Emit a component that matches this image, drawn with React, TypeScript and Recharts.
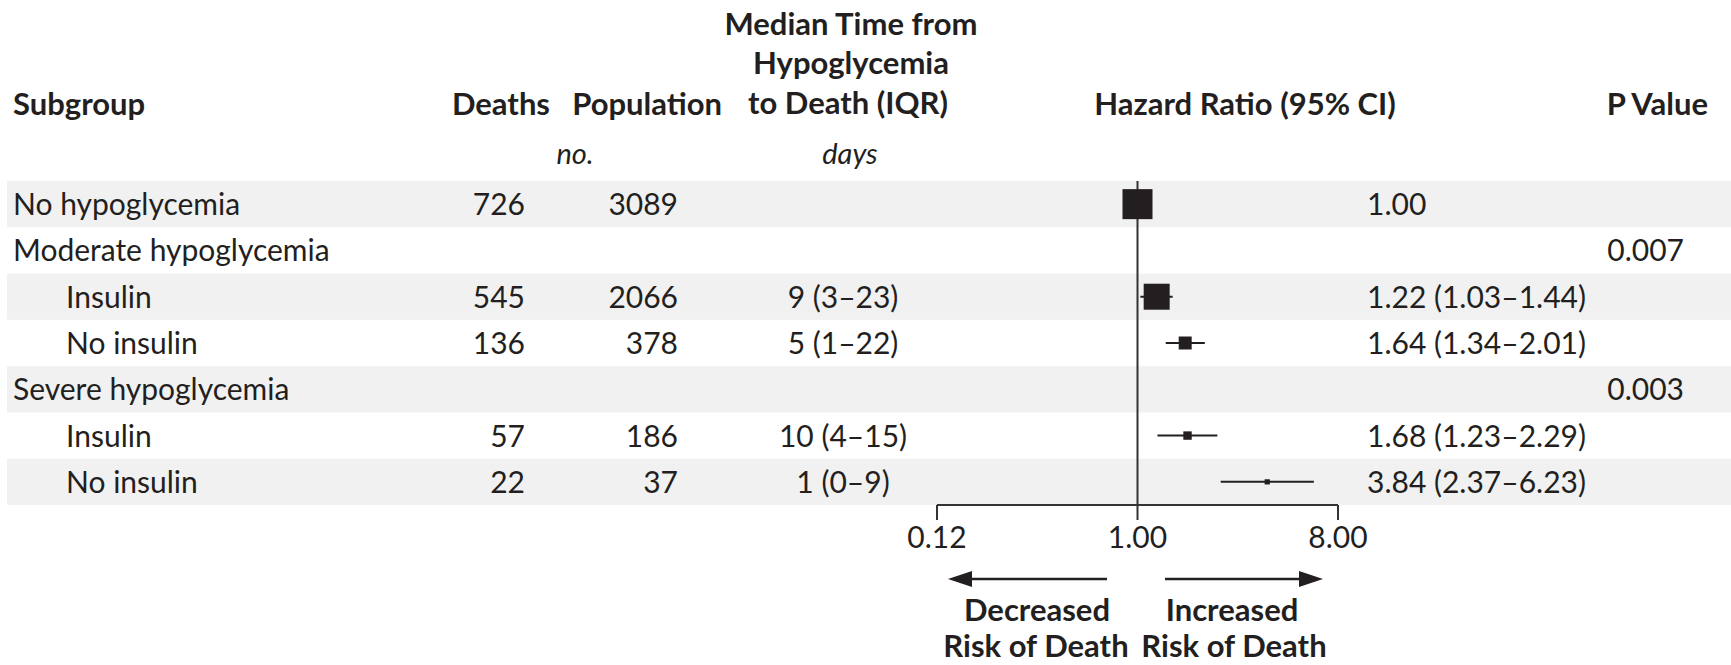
import React from 'react';
import { ComposedChart, Scatter, XAxis, YAxis, ErrorBar, ReferenceLine } from 'recharts';

// ---------- data ----------
const subgroups = [
  'No hypoglycemia',
  'Moderate hypoglycemia',
  'Insulin',
  'No insulin',
  'Severe hypoglycemia',
  'Insulin',
  'No insulin',
];
const levels = [0, 0, 1, 1, 0, 1, 1];
const deaths: (number | null)[] = [726, null, 545, 136, null, 57, 22];
const population: (number | null)[] = [3089, null, 2066, 378, null, 186, 37];
const medianDays = ['', '', '9 (3–23)', '5 (1–22)', '', '10 (4–15)', '1 (0–9)'];
const hazardRatio: (number | null)[] = [1.0, null, 1.22, 1.64, null, 1.68, 3.84];
const ciLower: (number | null)[] = [null, null, 1.03, 1.34, null, 1.23, 2.37];
const ciUpper: (number | null)[] = [null, null, 1.44, 2.01, null, 2.29, 6.23];
const pValues = ['', '0.007', '', '', '0.003', '', ''];
const xTicks = [0.125, 1, 8];
const xTickLabels = ['0.12', '1.00', '8.00'];

// ---------- layout ----------
const W = 1731;
const H = 665;
const PLOT_TOP = 181;
const PLOT_BOTTOM = 505;
const PLOT_LEFT = 937;
const PLOT_RIGHT = 1338;
const X_AXIS_H = 60;
const Y_AXIS_W = 1;
const ROW_H = (PLOT_BOTTOM - PLOT_TOP) / subgroups.length;
const FONT = 'Lato, "Open Sans", "Liberation Sans", sans-serif';
const INK = '#231f20';
const LINE = '#333333';
const BAND = '#f1f1f1';
const FS = 30;
const FSB = 31;
const MAX_SIDE = 30;
const maxDeaths = Math.max(...(deaths.filter((d) => d != null) as number[]));

const scatterData = hazardRatio
  .map((hr, i) => ({ i, hr }))
  .filter((d) => d.hr != null)
  .map(({ i, hr }) => ({
    row: i,
    hr: hr as number,
    err:
      ciLower[i] != null && ciUpper[i] != null
        ? [(hr as number) - (ciLower[i] as number), (ciUpper[i] as number) - (hr as number)]
        : [0, 0],
    deaths: deaths[i] as number,
  }));

const fmtHR = (i: number) => {
  const hr = hazardRatio[i];
  if (hr == null) return '';
  const lo = ciLower[i];
  const hi = ciUpper[i];
  if (lo == null || hi == null) return hr.toFixed(2);
  return `${hr.toFixed(2)} (${lo.toFixed(2)}–${hi.toFixed(2)})`;
};

const RowTick = (props: any) => {
  const { y, payload } = props;
  const i = payload.value as number;
  const ty = y + 11;
  const common = { fontFamily: FONT, fontSize: FS, fill: INK };
  return (
    <g>
      <text x={levels[i] ? 66 : 13} y={ty} textAnchor="start" {...common}>
        {subgroups[i]}
      </text>
      {deaths[i] != null && (
        <text x={525} y={ty} textAnchor="end" {...common}>
          {deaths[i]}
        </text>
      )}
      {population[i] != null && (
        <text x={678} y={ty} textAnchor="end" {...common}>
          {population[i]}
        </text>
      )}
      {medianDays[i] && (
        <text x={843} y={ty} textAnchor="middle" {...common}>
          {medianDays[i]}
        </text>
      )}
      {hazardRatio[i] != null && (
        <text x={1367} y={ty} textAnchor="start" {...common}>
          {fmtHR(i)}
        </text>
      )}
      {pValues[i] && (
        <text x={1684} y={ty} textAnchor="end" {...common}>
          {pValues[i]}
        </text>
      )}
    </g>
  );
};

const SquareShape = (props: any) => {
  const { cx, cy, payload } = props;
  const s = MAX_SIDE * Math.sqrt(payload.deaths / maxDeaths);
  return <rect x={cx - s / 2} y={cy - s / 2} width={s} height={s} fill={INK} />;
};

const XTick = (props: any) => {
  const { x, y, payload } = props;
  const idx = xTicks.indexOf(payload.value);
  return (
    <text x={x} y={y + 26} textAnchor="middle" fontFamily={FONT} fontSize={FS} fill={INK}>
      {xTickLabels[idx]}
    </text>
  );
};

const Bands = () => (
  <svg width={W} height={H} style={{ position: 'absolute', left: 0, top: 0 }}>
    {subgroups.map((_, i) =>
      i % 2 === 0 ? (
        <rect key={i} x={7} y={PLOT_TOP + i * ROW_H} width={W - 7} height={ROW_H} fill={BAND} />
      ) : null
    )}
  </svg>
);

const Header = () => {
  const b = { fontFamily: FONT, fontSize: FSB, fontWeight: 700, fill: INK };
  const it = { fontFamily: FONT, fontSize: FS - 1, fontStyle: 'italic', fill: INK };
  return (
    <svg
      width={W}
      height={H}
      style={{ position: 'absolute', left: 0, top: 0, pointerEvents: 'none' }}
    >
      <text x={13} y={115} {...b}>Subgroup</text>
      <text x={550} y={115} textAnchor="end" {...b}>Deaths</text>
      <text x={722} y={115} textAnchor="end" {...b}>Population</text>
      <text x={851} y={35} textAnchor="middle" {...b}>Median Time from</text>
      <text x={851} y={74} textAnchor="middle" {...b}>Hypoglycemia</text>
      <text x={848} y={114} textAnchor="middle" {...b}>to Death (IQR)</text>
      <text x={1245} y={115} textAnchor="middle" {...b}>Hazard Ratio (95% CI)</text>
      <text x={1708} y={115} textAnchor="end" {...b}>P Value</text>
      <text x={575} y={164} textAnchor="middle" {...it}>no.</text>
      <text x={850} y={164} textAnchor="middle" {...it}>days</text>

      <line x1={962} y1={579} x2={1107} y2={579} stroke={INK} strokeWidth={2.5} />
      <polygon points="948,579 972,571 972,587" fill={INK} />
      <line x1={1165} y1={579} x2={1310} y2={579} stroke={INK} strokeWidth={2.5} />
      <polygon points="1323,579 1299,571 1299,587" fill={INK} />

      <text x={1037} y={621} textAnchor="middle" {...b}>Decreased</text>
      <text x={1036} y={657} textAnchor="middle" {...b}>Risk of Death</text>
      <text x={1232} y={621} textAnchor="middle" {...b}>Increased</text>
      <text x={1234} y={657} textAnchor="middle" {...b}>Risk of Death</text>
    </svg>
  );
};

export default function App() {
  return (
    <div style={{ position: 'absolute', left: 0, top: 0, width: W, height: H, background: '#fff' }}>
      <Bands />
      <div style={{ position: 'absolute', left: 0, top: 0 }}>
        <ComposedChart
          width={W}
          height={H}
          data={scatterData}
          margin={{
            top: PLOT_TOP,
            bottom: H - PLOT_BOTTOM - X_AXIS_H,
            left: PLOT_LEFT - Y_AXIS_W,
            right: W - PLOT_RIGHT,
          }}
        >
          <YAxis
            yAxisId="rows"
            type="number"
            dataKey="row"
            domain={[-0.5, subgroups.length - 0.5]}
            allowDataOverflow
            ticks={subgroups.map((_, i) => i)}
            interval={0}
            reversed
            width={Y_AXIS_W}
            axisLine={false}
            tickLine={false}
            tick={<RowTick />}
          />
          <XAxis
            type="number"
            dataKey="hr"
            scale="log"
            domain={[xTicks[0], xTicks[xTicks.length - 1]]}
            ticks={xTicks}
            interval={0}
            allowDataOverflow
            height={X_AXIS_H}
            tickSize={15}
            tick={<XTick />}
            axisLine={{ stroke: LINE, strokeWidth: 2 }}
            tickLine={{ stroke: LINE, strokeWidth: 2 }}
          />
          <ReferenceLine yAxisId="rows" x={1} stroke={LINE} strokeWidth={2} ifOverflow="visible" />
          <Scatter yAxisId="rows" dataKey="hr" isAnimationActive={false} shape={<SquareShape />}>
            <ErrorBar dataKey="err" direction="x" width={0} stroke={INK} strokeWidth={2} />
          </Scatter>
        </ComposedChart>
      </div>
      <Header />
    </div>
  );
}
